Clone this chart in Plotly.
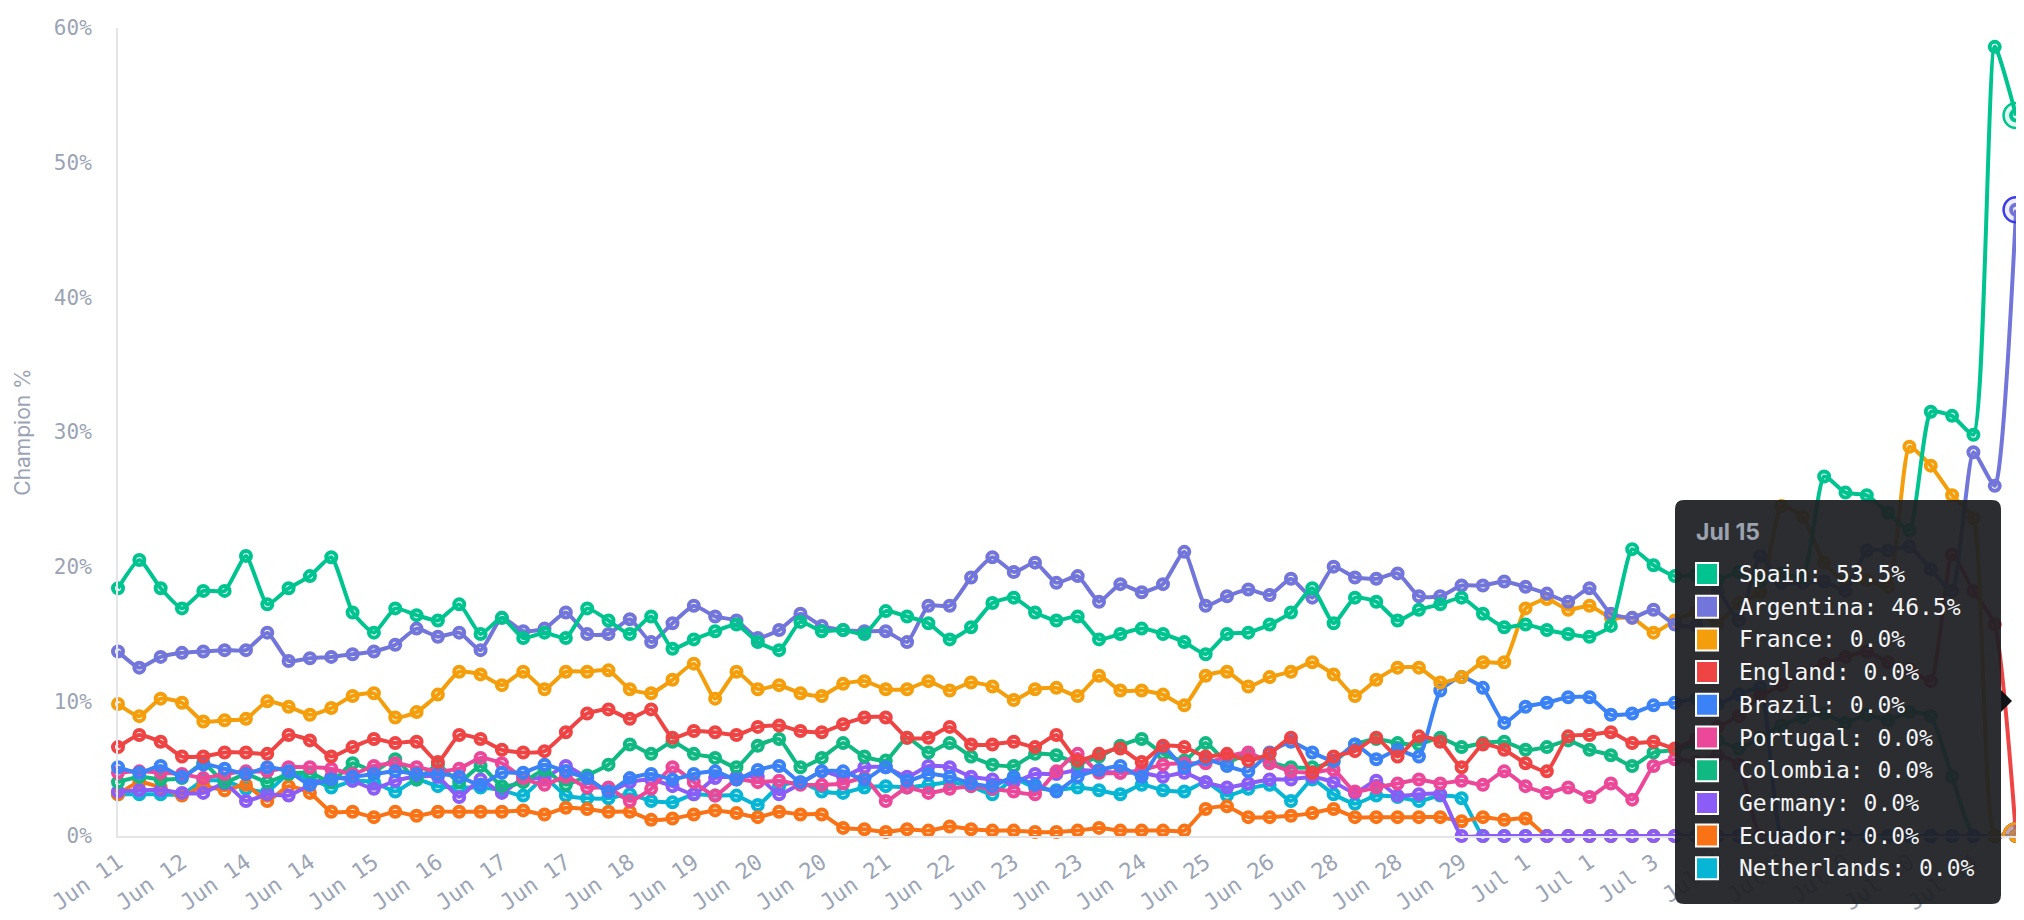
import plotly.graph_objects as go

# -------------------- Data --------------------
tick_labels = ["Jun 11", "Jun 12", "Jun 14", "Jun 14", "Jun 15", "Jun 16", "Jun 17", "Jun 17",
               "Jun 18", "Jun 19", "Jun 20", "Jun 20", "Jun 21", "Jun 22", "Jun 23", "Jun 23",
               "Jun 24", "Jun 25", "Jun 26", "Jun 28", "Jun 28", "Jun 29", "Jul 1", "Jul 1",
               "Jul 3", "Jul 5", "Jul 6", "Jul 9", "Jul 10", "Jul 14"]
TICK_EVERY = 3
hover_date = "Jul 15"
y_ticks = [0, 10, 20, 30, 40, 50, 60]

countries = ["Spain", "Argentina", "France", "England", "Brazil",
             "Portugal", "Colombia", "Germany", "Ecuador", "Netherlands"]
colors = ["#00c48f", "#7275d9", "#f59e0b", "#ef4444", "#3b82f6",
          "#ec4899", "#10b981", "#8b5cf6", "#f97316", "#06b6d4"]

spain = [18.4, 20.5, 18.4, 16.9, 18.2, 18.2, 20.8, 17.2, 18.4, 19.3,
         20.7, 16.6, 15.1, 16.9, 16.4, 16.0, 17.2, 15.0, 16.2, 14.7,
         15.1, 14.7, 16.9, 16.0, 15.0, 16.3, 13.9, 14.6, 15.2, 15.7,
         14.4, 13.8, 15.9, 15.2, 15.3, 15.0, 16.7, 16.3, 15.8, 14.6,
         15.5, 17.3, 17.7, 16.6, 16.0, 16.3, 14.6, 15.0, 15.4, 15.0,
         14.4, 13.5, 15.0, 15.1, 15.7, 16.6, 18.4, 15.8, 17.7, 17.4,
         16.0, 16.8, 17.2, 17.7, 16.5, 15.5, 15.7, 15.3, 15.0, 14.8,
         15.6, 21.3, 20.1, 19.3, 19.4, 19.0, 19.6, 18.9, 19.5, 19.2,
         26.7, 25.5, 25.3, 24.0, 22.7, 31.5, 31.2, 29.8, 58.6, 53.5]
argentina = [13.7, 12.5, 13.3, 13.6, 13.7, 13.8, 13.8, 15.1, 13.0, 13.2,
             13.3, 13.5, 13.7, 14.2, 15.4, 14.8, 15.1, 13.8, 16.2, 15.2,
             15.4, 16.6, 15.0, 15.0, 16.1, 14.4, 15.8, 17.1, 16.3, 16.0,
             14.7, 15.3, 16.5, 15.6, 15.3, 15.2, 15.2, 14.4, 17.1, 17.1,
             19.2, 20.7, 19.6, 20.3, 18.8, 19.3, 17.4, 18.7, 18.1, 18.7,
             21.1, 17.1, 17.8, 18.3, 17.9, 19.1, 17.7, 20.0, 19.2, 19.1,
             19.5, 17.8, 17.8, 18.6, 18.6, 18.9, 18.5, 18.0, 17.4, 18.4,
             16.5, 16.2, 16.8, 15.7, 15.6, 18.2, 16.0, 20.8, 18.8, 18.8,
             18.9, 18.2, 21.2, 21.2, 21.5, 19.8, 18.2, 28.5, 26.0, 46.5]
france = [9.8, 8.9, 10.2, 9.9, 8.5, 8.6, 8.7, 10.0, 9.6, 9.0,
          9.5, 10.4, 10.6, 8.8, 9.2, 10.5, 12.2, 12.0, 11.2, 12.2,
          10.9, 12.2, 12.2, 12.3, 10.9, 10.6, 11.6, 12.8, 10.2, 12.2,
          10.9, 11.2, 10.6, 10.4, 11.3, 11.5, 10.9, 10.9, 11.5, 10.8,
          11.4, 11.1, 10.1, 10.9, 11.0, 10.4, 11.9, 10.8, 10.8, 10.5,
          9.7, 11.9, 12.2, 11.1, 11.8, 12.2, 12.9, 12.0, 10.4, 11.6,
          12.5, 12.5, 11.4, 11.8, 12.9, 12.9, 16.9, 17.6, 16.8, 17.1,
          16.2, 16.2, 15.1, 16.0, 16.6, 15.8, 17.3, 18.1, 24.5, 23.7,
          20.3, 18.9, 19.0, 18.5, 28.9, 27.5, 25.3, 23.6, 0.0, 0.0]
england = [6.6, 7.5, 7.0, 5.9, 5.9, 6.2, 6.2, 6.1, 7.5, 7.1,
           5.9, 6.6, 7.2, 6.9, 7.0, 5.5, 7.5, 7.2, 6.4, 6.2,
           6.3, 7.7, 9.1, 9.4, 8.7, 9.4, 7.3, 7.8, 7.7, 7.5,
           8.1, 8.2, 7.8, 7.7, 8.3, 8.8, 8.8, 7.3, 7.3, 8.1,
           6.8, 6.8, 7.0, 6.6, 7.5, 5.6, 6.1, 6.5, 5.5, 6.7,
           6.6, 5.9, 6.1, 5.6, 6.1, 7.3, 4.7, 5.9, 6.3, 7.3,
           5.9, 7.4, 7.0, 5.1, 6.8, 6.4, 5.4, 4.8, 7.4, 7.5,
           7.7, 6.9, 7.0, 6.5, 7.2, 8.1, 8.9, 10.4, 11.2, 12.1,
           12.8, 13.3, 13.7, 12.9, 12.4, 11.5, 20.9, 18.2, 15.7, 0.0]
brazil = [5.1, 4.7, 5.2, 4.4, 5.3, 5.0, 4.6, 5.1, 4.8, 3.8,
          4.2, 4.4, 4.6, 4.8, 4.6, 4.6, 4.4, 3.8, 4.7, 4.7,
          5.3, 4.8, 4.3, 3.3, 4.3, 4.6, 4.2, 4.6, 4.8, 4.2,
          4.9, 5.2, 4.0, 4.8, 4.8, 4.2, 5.1, 4.1, 4.6, 4.4,
          3.9, 3.7, 4.4, 3.8, 3.3, 4.4, 4.9, 5.2, 4.4, 6.6,
          5.1, 5.7, 5.2, 4.8, 6.2, 7.0, 6.2, 5.6, 6.8, 5.7,
          6.4, 5.9, 10.8, 11.8, 11.0, 8.4, 9.6, 9.9, 10.3, 10.3,
          9.0, 9.1, 9.7, 9.9, 10.2, 9.8, 10.5, 11.0, 0.0, 0.0,
          0.0, 0.0, 0.0, 0.0, 0.0, 0.0, 0.0, 0.0, 0.0, 0.0]
portugal = [4.7, 4.8, 4.7, 4.6, 4.3, 4.6, 4.8, 4.8, 5.1, 5.1,
            5.0, 4.6, 5.2, 5.4, 5.1, 4.8, 5.0, 5.8, 5.4, 4.3,
            3.8, 4.4, 3.6, 3.6, 2.6, 3.5, 5.1, 4.0, 3.0, 4.2,
            4.0, 4.1, 3.8, 3.8, 3.9, 4.3, 2.6, 3.6, 3.2, 3.5,
            3.7, 3.5, 3.3, 3.1, 4.8, 6.1, 4.7, 4.7, 4.9, 5.3,
            5.4, 5.4, 5.9, 6.2, 5.4, 4.8, 4.7, 4.9, 3.3, 3.6,
            3.9, 4.2, 3.9, 4.1, 3.8, 4.8, 3.7, 3.2, 3.6, 2.9,
            3.9, 2.7, 5.2, 5.7, 5.5, 6.0, 5.3, 0.0, 0.0, 0.0,
            0.0, 0.0, 0.0, 0.0, 0.0, 0.0, 0.0, 0.0, 0.0, 0.0]
colombia = [4.0, 4.4, 4.2, 4.3, 5.4, 4.0, 4.6, 4.0, 4.6, 4.7,
            4.0, 5.4, 4.8, 5.7, 4.2, 5.3, 4.0, 5.2, 3.7, 4.0,
            4.9, 3.8, 4.5, 5.3, 6.8, 6.1, 7.0, 6.1, 5.8, 5.1,
            6.7, 7.2, 5.1, 5.8, 6.9, 5.9, 5.6, 7.3, 6.2, 6.9,
            5.9, 5.3, 5.2, 6.1, 6.0, 5.4, 5.9, 6.7, 7.2, 6.1,
            5.6, 6.9, 5.5, 6.1, 5.5, 5.1, 5.1, 5.5, 6.8, 7.2,
            6.9, 6.8, 7.3, 6.6, 6.9, 7.0, 6.4, 6.6, 7.1, 6.4,
            6.0, 5.2, 6.2, 6.4, 6.8, 7.1, 6.5, 7.3, 8.2, 8.8,
            9.1, 8.4, 9.0, 8.6, 9.2, 8.9, 4.4, 0.0, 0.0, 0.0]
germany = [3.3, 3.4, 3.4, 3.2, 3.2, 3.9, 2.6, 3.1, 3.0, 3.8,
           4.4, 4.1, 3.5, 4.1, 4.4, 4.4, 2.9, 4.2, 3.2, 4.3,
           4.3, 5.2, 4.3, 3.3, 4.0, 4.2, 3.7, 3.1, 4.3, 4.4,
           4.4, 3.1, 3.9, 4.8, 4.4, 5.1, 5.1, 4.4, 5.2, 5.1,
           4.4, 4.2, 4.0, 4.6, 4.6, 4.9, 4.8, 4.7, 4.7, 4.4,
           4.7, 4.0, 3.6, 3.9, 4.2, 4.2, 4.4, 4.0, 3.2, 4.1,
           3.0, 3.1, 3.1, 0.0, 0.0, 0.0, 0.0, 0.0, 0.0, 0.0,
           0.0, 0.0, 0.0, 0.0, 0.0, 0.0, 0.0, 0.0, 0.0, 0.0,
           0.0, 0.0, 0.0, 0.0, 0.0, 0.0, 0.0, 0.0, 0.0, 0.0]
ecuador = [3.1, 4.0, 3.6, 3.0, 3.7, 3.4, 3.8, 2.6, 3.7, 3.2,
           1.8, 1.8, 1.4, 1.8, 1.5, 1.8, 1.8, 1.8, 1.8, 1.9,
           1.6, 2.1, 2.0, 1.8, 1.8, 1.2, 1.3, 1.6, 1.9, 1.7,
           1.4, 1.8, 1.6, 1.6, 0.6, 0.5, 0.3, 0.5, 0.4, 0.7,
           0.5, 0.4, 0.4, 0.3, 0.3, 0.4, 0.6, 0.4, 0.4, 0.4,
           0.4, 2.0, 2.2, 1.4, 1.4, 1.5, 1.7, 2.0, 1.4, 1.4,
           1.4, 1.4, 1.4, 1.1, 1.4, 1.2, 1.3, 0.0, 0.0, 0.0,
           0.0, 0.0, 0.0, 0.0, 0.0, 0.0, 0.0, 0.0, 0.0, 0.0,
           0.0, 0.0, 0.0, 0.0, 0.0, 0.0, 0.0, 0.0, 0.0, 0.0]
netherlands = [3.1, 3.1, 3.1, 3.1, 4.1, 4.1, 3.5, 3.3, 4.6, 4.3,
               3.6, 4.1, 4.0, 3.3, 4.2, 3.7, 3.6, 3.6, 3.4, 3.0,
               4.3, 3.0, 2.8, 2.8, 3.1, 2.6, 2.5, 3.1, 3.0, 3.0,
               2.3, 3.7, 4.0, 3.3, 3.2, 3.6, 3.7, 3.6, 3.8, 4.0,
               3.7, 3.1, 4.2, 3.6, 3.4, 3.6, 3.4, 3.1, 3.8, 3.4,
               3.3, 4.0, 3.0, 3.5, 3.8, 2.6, 4.2, 3.1, 2.4, 3.0,
               2.9, 2.6, 3.0, 2.8, 0.0, 0.0, 0.0, 0.0, 0.0, 0.0,
               0.0, 0.0, 0.0, 0.0, 0.0, 0.0, 0.0, 0.0, 0.0, 0.0,
               0.0, 0.0, 0.0, 0.0, 0.0, 0.0, 0.0, 0.0, 0.0, 0.0]

series = [spain, argentina, france, england, brazil,
          portugal, colombia, germany, ecuador, netherlands]

# active-dot ring colour (Argentina's ring is a brighter blue in the reference)
dot_rings = list(colors)
dot_rings[1] = "#3b3bea"

# -------------------- Layout constants (pixels) --------------------
W, H = 2024, 920
M_L, M_R, M_T, M_B = 110, 1, 20, 92
PLOT_W = W - M_L - M_R
PLOT_H = H - M_T - M_B
GRAY = "#9ba4b4"
AXIS = "#e3e5e8"
MONO = "DejaVu Sans Mono"


def px(x):
    return (x - M_L) / PLOT_W


def py(y):
    return (H - M_B - y) / PLOT_H


def hex_rgba(h, a):
    h = h.lstrip("#")
    return f"rgba({int(h[0:2], 16)},{int(h[2:4], 16)},{int(h[4:6], 16)},{a})"


n = len(spain)
idx = list(range(n))

fig = go.Figure()

# lines, drawn back to front so Spain ends up on top
for name, col, vals in reversed(list(zip(countries, colors, series))):
    fig.add_trace(go.Scatter(
        x=idx, y=vals, name=name, mode="lines+markers",
        line=dict(color=col, width=4, shape="spline", smoothing=0.5),
        marker=dict(symbol="circle", size=10, color="rgba(0,0,0,0)",
                    line=dict(width=4, color=col)),
        cliponaxis=False, hoverinfo="skip"))

# highlighted last points
for name, col, ring, vals in reversed(list(zip(countries, colors, dot_rings, series))):
    fig.add_trace(go.Scatter(
        x=[idx[-1]], y=[vals[-1]], mode="markers", showlegend=False,
        marker=dict(size=25, color=hex_rgba(col, 0.12), line=dict(color=ring, width=2.5)),
        cliponaxis=True, hoverinfo="skip"))

# --- tooltip box (static copy of the hover card) ---
bx0, bx1, by0, by1, r = 1667, 1993, 492, 896, 9
rx, ry = r / PLOT_W, r / PLOT_H
X0, X1, Yt, Yb = px(bx0), px(bx1), py(by0), py(by1)
box_path = (f"M {X0+rx},{Yt} L {X1-rx},{Yt} Q {X1},{Yt} {X1},{Yt-ry} "
            f"L {X1},{Yb+ry} Q {X1},{Yb} {X1-rx},{Yb} L {X0+rx},{Yb} "
            f"Q {X0},{Yb} {X0},{Yb+ry} L {X0},{Yt-ry} Q {X0},{Yt} {X0+rx},{Yt} Z")
shapes = [
    dict(type="path", path=box_path, xref="paper", yref="paper",
         fillcolor="rgba(30,32,36,0.94)", line=dict(width=0), layer="above"),
    dict(type="path", xref="paper", yref="paper", layer="above",
         path=f"M {px(1993)},{py(682)} L {px(2004)},{py(693)} L {px(1993)},{py(704)} Z",
         fillcolor="#111317", line=dict(width=0)),
]
annotations = [
    dict(x=px(1686), y=py(524), xref="paper", yref="paper", xanchor="left", yanchor="middle",
         text=hover_date, showarrow=False,
         font=dict(family="Inter", size=23, color="#9ca3af", weight=700)),
]
row0, row_h = 566, 32.7
for k, (name, col, vals) in enumerate(zip(countries, colors, series)):
    cy = row0 + k * row_h
    shapes.append(dict(type="rect", xref="paper", yref="paper", layer="above",
                       x0=px(1688), x1=px(1710), y0=py(cy + 11), y1=py(cy - 11),
                       fillcolor=col, line=dict(color="white", width=2)))
    annotations.append(dict(x=px(1729), y=py(cy), xref="paper", yref="paper",
                            xanchor="left", yanchor="middle", showarrow=False,
                            text=f"{name}: {vals[-1]:.1f}%",
                            font=dict(family=MONO, size=23, color="#f3f4f6")))

fig.update_layout(
    width=W, height=H,
    margin=dict(l=M_L, r=M_R, t=M_T, b=M_B),
    paper_bgcolor="white", plot_bgcolor="white",
    showlegend=False, hovermode=False,
    shapes=shapes, annotations=annotations,
)
fig.update_xaxes(
    range=[0, n - 1 + 0.7],
    tickvals=idx[::TICK_EVERY], ticktext=tick_labels, tickangle=-35,
    tickfont=dict(family=MONO, size=22, color=GRAY),
    ticks="outside", ticklen=3, tickcolor="rgba(0,0,0,0)",
    showgrid=False, zeroline=False, showline=True, linecolor=AXIS, linewidth=2,
)
fig.update_yaxes(
    range=[0, 60], tickvals=y_ticks, ticktext=[f"{v}%" for v in y_ticks],
    tickfont=dict(family=MONO, size=21, color=GRAY),
    ticks="outside", ticklen=20, tickcolor="rgba(0,0,0,0)",
    showgrid=False, zeroline=False, showline=True, linecolor=AXIS, linewidth=2,
    title=dict(text="Champion %", standoff=18, font=dict(family="Inter", size=21, color=GRAY)),
)

fig.write_html("out.html")
